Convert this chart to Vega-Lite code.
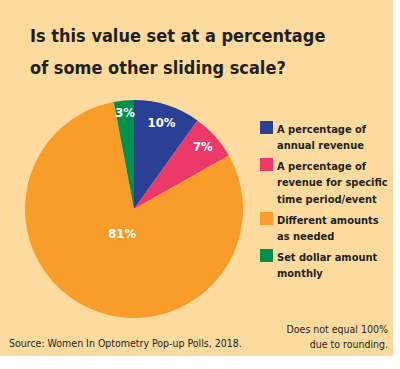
{
  "$schema": "https://vega.github.io/schema/vega-lite/v6.json",
  "background": "#FDDB9E",
  "padding": {"left": 9, "top": 28, "right": 5, "bottom": 5},
  "title": {
    "text": ["Is this value set at a percentage", "of some other sliding scale?"],
    "anchor": "start",
    "font": "DejaVu Sans Condensed",
    "fontSize": 18,
    "fontWeight": "bold",
    "lineHeight": 32,
    "color": "#231F20",
    "dx": 21,
    "offset": 22
  },
  "vconcat": [
    {
      "width": 218,
      "height": 218,
      "title": {
        "text": "Source: Women In Optometry Pop-up Polls, 2018.",
        "orient": "bottom",
        "anchor": "start",
        "frame": "group",
        "font": "DejaVu Sans Condensed",
        "fontSize": 10.5,
        "fontWeight": "normal",
        "color": "#231F20",
        "dx": -16,
        "offset": 21
      },
      "data": {
        "values": [
          {"category": "A percentage of annual revenue", "value": 0.10},
          {"category": "A percentage of revenue for specific time period/event", "value": 0.07},
          {"category": "Different amounts as needed", "value": 0.81},
          {"category": "Set dollar amount monthly", "value": 0.03}
        ]
      },
      "encoding": {
        "theta": {"field": "value", "type": "quantitative", "stack": true},
        "order": {"field": "category", "sort": "ascending"},
        "color": {
          "field": "category",
          "type": "nominal",
          "scale": {
            "domain": ["A percentage of annual revenue", "A percentage of revenue for specific time period/event", "Different amounts as needed", "Set dollar amount monthly"],
            "range": ["#2A4095", "#ED386A", "#F99D2A", "#00904E"]
          },
          "legend": {
            "orient": "none",
            "legendX": 235,
            "legendY": 21,
            "padding": 0,
            "symbolType": "square",
            "symbolSize": 169,
            "symbolStrokeWidth": 0,
            "symbolOpacity": 1,
            "labelFont": "DejaVu Sans Condensed",
            "labelFontSize": 11,
            "labelFontWeight": "bold",
            "labelColor": "#231F20",
            "labelLimit": 300,
            "labelOffset": 4,
            "labelBaseline": "top",
            "rowPadding": 7,
            "labelExpr": "datum.label == 'A percentage of annual revenue' ? ['A percentage of', 'annual revenue'] : datum.label == 'Different amounts as needed' ? ['Different amounts', 'as needed'] : datum.label == 'Set dollar amount monthly' ? ['Set dollar amount', 'monthly'] : ['A percentage of', 'revenue for specific', 'time period/event']",
            "encode": {"labels": {"update": {"lineHeight": {"value": 16.5}, "dy": {"value": -4}}}},
            "title": ["Does not equal 100%", "due to rounding."],
            "titleOrient": "bottom",
            "titleAnchor": "end",
            "titlePadding": 46,
            "titleFont": "DejaVu Sans Condensed",
            "titleFontSize": 10.5,
            "titleFontWeight": "normal",
            "titleColor": "#231F20",
            "titleLineHeight": 15
          }
        }
      },
      "layer": [
        {"mark": {"type": "arc"}},
        {
          "mark": {
            "type": "text",
            "font": "DejaVu Sans Condensed",
            "fontSize": 13,
            "fontWeight": "bold"
          },
          "encoding": {
            "text": {"field": "value", "type": "quantitative", "format": ".0%"},
            "radius": {
              "field": "value",
              "type": "quantitative",
              "scale": {"type": "linear", "zero": false, "domain": [0.03, 0.81], "range": [96, 28]}
            },
            "color": {"value": "#FFFFFF"}
          }
        }
      ]
    }
  ],
  "config": {"view": {"stroke": null}}
}
